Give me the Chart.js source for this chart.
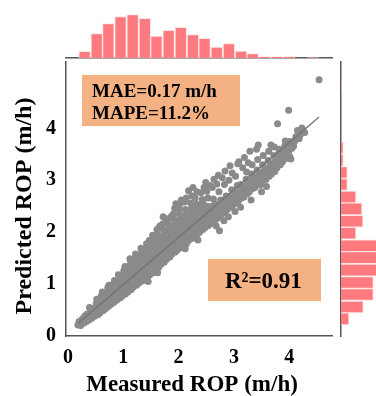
<!DOCTYPE html>
<html>
<head>
<meta charset="utf-8">
<script src="https://cdn.jsdelivr.net/npm/chart.js@4.4.1/dist/chart.umd.min.js"></script>
<style>
  html, body { margin: 0; padding: 0; background: #fff; }
  #wrap { position: relative; width: 376px; height: 396px; }
  #wrap canvas { position: absolute; left: 0; top: 0; }
</style>
</head>
<body>
<div id="wrap">
  <canvas id="topHist" width="376" height="396"></canvas>
  <canvas id="rightHist" width="376" height="396"></canvas>
  <canvas id="main" width="376" height="396"></canvas>
</div>
<script>
// measured vs predicted ROP (m/h)
const scatterPts = [
  [0.18,0.21],[0.21,0.24],[0.23,0.20],[0.20,0.28],[0.25,0.27],[0.26,0.33],
  [0.29,0.25],[0.31,0.31],[0.30,0.38],[0.33,0.28],[0.34,0.42],[0.36,0.35],
  [0.38,0.31],[0.40,0.39],[0.41,0.47],[0.39,0.55],[0.43,0.34],[0.44,0.51],[0.46,0.43],
  [0.48,0.38],[0.50,0.46],[0.49,0.54],[0.51,0.62],[0.52,0.71],[0.54,0.41],[0.55,0.58],[0.56,0.67],
  [0.58,0.45],[0.59,0.52],[0.60,0.60],[0.61,0.68],[0.60,0.77],[0.62,0.85],[0.64,0.49],[0.65,0.64],[0.66,0.74],
  [0.68,0.53],[0.69,0.60],[0.70,0.68],[0.71,0.76],[0.70,0.84],[0.72,0.93],[0.73,0.57],[0.75,0.71],[0.74,0.98],[0.76,0.82],
  [0.78,0.61],[0.79,0.68],[0.80,0.76],[0.81,0.84],[0.80,0.92],[0.82,1.00],[0.83,0.65],[0.85,0.79],[0.84,1.07],[0.86,0.90],
  [0.88,0.69],[0.89,0.77],[0.90,0.85],[0.91,0.93],[0.90,1.01],[0.92,1.09],[0.91,1.18],[0.94,0.73],[0.95,0.88],[0.96,1.03],[0.95,1.14],
  [0.98,0.77],[0.99,0.85],[1.00,0.93],[1.01,1.01],[1.00,1.09],[1.02,1.17],[1.01,1.26],[1.03,1.34],[1.04,0.81],[1.05,0.97],[1.06,1.13],[1.05,1.29],
  [1.08,0.85],[1.09,0.93],[1.10,1.01],[1.11,1.09],[1.10,1.17],[1.12,1.25],[1.11,1.34],[1.13,1.43],[1.14,0.89],[1.15,1.05],[1.16,1.21],[1.15,1.38],[1.12,1.49],
  [1.18,0.94],[1.19,1.02],[1.20,1.10],[1.21,1.18],[1.20,1.26],[1.22,1.34],[1.21,1.43],[1.23,1.52],[1.24,0.98],[1.25,1.14],[1.26,1.30],[1.25,1.47],[1.22,1.58],
  [1.28,1.02],[1.29,1.10],[1.30,1.18],[1.31,1.26],[1.30,1.34],[1.32,1.42],[1.31,1.51],[1.33,1.60],[1.34,1.06],[1.35,1.22],[1.36,1.38],[1.35,1.55],[1.32,1.69],
  [1.38,1.10],[1.39,1.18],[1.40,1.26],[1.41,1.34],[1.40,1.42],[1.42,1.50],[1.41,1.59],[1.43,1.68],[1.44,1.14],[1.45,1.30],[1.46,1.46],[1.45,1.63],[1.42,1.78],[1.47,1.84],[1.45,1.05],
  [1.48,1.18],[1.49,1.26],[1.50,1.34],[1.51,1.42],[1.50,1.50],[1.52,1.58],[1.51,1.67],[1.53,1.76],[1.52,1.85],[1.54,1.22],[1.55,1.38],[1.56,1.54],[1.55,1.71],[1.53,1.94],
  [1.58,1.28],[1.59,1.36],[1.60,1.44],[1.61,1.52],[1.60,1.60],[1.62,1.68],[1.61,1.77],[1.63,1.86],[1.62,1.95],[1.61,2.05],[1.64,1.32],[1.65,1.48],[1.66,1.64],[1.65,1.81],[1.66,2.12],[1.62,1.22],
  [1.68,1.38],[1.69,1.46],[1.70,1.54],[1.71,1.62],[1.70,1.70],[1.72,1.78],[1.71,1.87],[1.73,1.96],[1.72,2.05],[1.71,2.16],[1.74,1.42],[1.75,1.58],[1.76,1.74],[1.75,1.91],[1.77,2.22],[1.72,2.30],
  [1.78,1.48],[1.79,1.56],[1.80,1.64],[1.81,1.72],[1.80,1.80],[1.82,1.88],[1.81,1.97],[1.83,2.06],[1.82,2.15],[1.81,2.26],[1.84,1.52],[1.85,1.68],[1.86,1.84],[1.85,2.01],[1.87,2.31],
  [1.88,1.58],[1.89,1.66],[1.90,1.74],[1.91,1.82],[1.90,1.90],[1.92,1.98],[1.91,2.07],[1.93,2.16],[1.92,2.25],[1.91,2.36],[1.94,1.62],[1.95,1.78],[1.96,1.94],[1.95,2.11],[1.93,2.46],[1.95,2.55],
  [1.98,1.66],[1.99,1.74],[2.00,1.82],[2.01,1.90],[2.00,1.98],[2.02,2.06],[2.01,2.15],[2.03,2.24],[2.02,2.34],[2.01,2.45],[2.04,1.70],[2.05,1.86],[2.06,2.02],[2.05,2.19],[2.03,2.56],[2.05,2.62],
  [2.08,1.74],[2.09,1.82],[2.10,1.90],[2.11,1.98],[2.10,2.06],[2.12,2.14],[2.11,2.23],[2.13,2.33],[2.12,2.44],[2.14,1.78],[2.15,1.94],[2.16,2.10],[2.15,2.28],[2.11,2.58],[2.14,2.66],[2.12,1.68],
  [2.18,1.84],[2.19,1.92],[2.20,2.00],[2.21,2.08],[2.20,2.16],[2.22,2.24],[2.21,2.34],[2.23,2.45],[2.24,1.88],[2.25,2.04],[2.26,2.20],[2.25,2.38],[2.22,2.56],[2.24,2.70],[2.18,2.80],
  [2.28,1.92],[2.29,2.00],[2.30,2.08],[2.31,2.16],[2.30,2.24],[2.32,2.33],[2.31,2.43],[2.33,2.54],[2.34,1.97],[2.35,2.12],[2.36,2.28],[2.35,2.48],[2.30,2.66],[2.33,2.78],[2.26,2.86],[2.35,1.85],
  [2.38,2.00],[2.39,2.08],[2.40,2.16],[2.41,2.24],[2.40,2.32],[2.42,2.41],[2.41,2.51],[2.43,2.63],[2.44,2.05],[2.45,2.20],[2.46,2.36],[2.44,2.56],[2.40,2.76],[2.46,2.86],
  [2.48,2.09],[2.49,2.17],[2.50,2.25],[2.51,2.33],[2.50,2.41],[2.52,2.50],[2.54,2.13],[2.55,2.29],[2.56,2.45],[2.53,2.66],[2.57,2.90],[2.49,2.96],[2.51,2.79],
  [2.58,2.17],[2.59,2.25],[2.60,2.33],[2.61,2.41],[2.60,2.50],[2.64,2.21],[2.65,2.37],[2.63,2.64],[2.66,2.54],[2.61,2.86],[2.64,3.02],
  [2.68,2.25],[2.69,2.33],[2.70,2.41],[2.71,2.50],[2.74,2.29],[2.75,2.46],[2.73,2.78],[2.76,2.62],[2.69,2.93],[2.74,2.03],[2.72,3.10],[2.68,2.12],
  [2.78,2.35],[2.79,2.43],[2.80,2.51],[2.81,2.60],[2.84,2.39],[2.85,2.56],[2.83,2.92],[2.86,2.70],[2.79,3.05],[2.84,3.18],[2.82,2.22],
  [2.88,2.44],[2.89,2.52],[2.90,2.60],[2.91,2.69],[2.94,2.48],[2.95,2.65],[2.93,3.28],[2.96,2.82],[2.91,3.00],[2.97,3.14],[2.90,2.30],
  [2.98,2.52],[2.99,2.60],[3.00,2.68],[3.01,2.77],[3.04,2.56],[3.05,2.73],[3.03,3.08],[3.06,2.90],[3.07,3.32],[3.02,2.40],
  [3.08,2.60],[3.10,2.70],[3.11,2.79],[3.12,2.92],[3.14,2.66],[3.15,2.84],[3.16,3.24],[3.09,3.36],[3.12,2.48],
  [3.18,2.68],[3.20,2.78],[3.21,2.88],[3.22,3.02],[3.24,2.74],[3.25,2.93],[3.23,3.16],[3.26,3.34],[3.19,3.44],
  [3.28,2.78],[3.30,2.88],[3.31,2.98],[3.32,3.12],[3.34,2.84],[3.35,3.03],[3.33,3.30],[3.29,3.56],[3.31,2.62],
  [3.38,2.86],[3.40,2.96],[3.41,3.06],[3.42,3.20],[3.44,2.92],[3.45,3.12],[3.43,3.40],[3.41,3.60],[3.44,3.68],
  [3.48,2.93],[3.50,3.04],[3.51,3.14],[3.52,3.30],[3.54,3.00],[3.55,3.20],[3.53,3.48],[3.47,2.91],[3.50,2.78],
  [3.58,3.02],[3.60,3.12],[3.61,3.22],[3.62,3.38],[3.64,3.08],[3.65,3.28],[3.63,3.56],[3.67,3.68],[3.59,2.88],
  [3.68,3.12],[3.70,3.22],[3.71,3.32],[3.72,3.48],[3.74,3.17],[3.75,3.37],[3.73,3.64],
  [3.78,3.24],[3.80,3.34],[3.81,3.44],[3.82,3.55],[3.84,3.30],[3.82,3.60],[3.79,4.09],
  [3.88,3.36],[3.90,3.46],[3.91,3.56],[3.92,3.66],[3.94,3.42],[3.93,3.76],
  [3.98,3.48],[4.00,3.58],[4.01,3.68],[4.01,3.75],[4.01,3.46],[4.03,3.41],[4.05,3.62],[3.99,4.35],
  [4.08,3.66],[4.10,3.76],[4.12,3.84],[4.15,3.96],[4.18,3.80],[4.20,3.88],[4.23,4.01],[4.28,3.92],[4.54,4.94]
];

// least-squares fit drawn through the cloud
const fitX = [0.19, 4.54];
const fitY = [0.25, 4.22];

// marginal histogram of measured ROP
const xBinCenters = [0.30,0.52,0.73,0.95,1.17,1.39,1.60,1.82,2.04,2.26,2.47,2.69,2.91,3.13,3.34,3.56,3.78,4.00,4.21,4.43];
const xBinCounts  = [20,73,103,124,130,119,66,83,92,70,59,33,43,21,13,4,4,4,0,1];

// marginal histogram of predicted ROP
const yBinCenters = [0.33,0.56,0.80,1.03,1.27,1.51,1.74,1.98,2.21,2.45,2.68,2.92,3.15,3.39,3.63,3.86,4.10,4.33,4.57,4.80];
const yBinCounts  = [24,67,97,97,150,172,160,45,66,63,45,19,19,7,7,0,0,0,0,1];

const xTicks = [0, 1, 2, 3, 4];
const yTicks = [0, 1, 2, 3, 4];

const X_MIN = -0.036, X_MAX = 4.774;
const Y_MIN = 0, Y_MAX = 5.28;

const serif = 'Liberation Serif, Times New Roman, serif';
const barFill = '#ff7a7e';
const barEdge = 'rgba(255,225,225,0.9)';
const spine = '#555555';

// shared chart area: left 66, top 62, right 332, bottom 336
const AREA = { left: 66, top: 62, right: 332, bottom: 336 };

const fixedTicks = vals => scale => { scale.ticks = vals.map(v => ({ value: v })); };

// text boxes and axis titles
const labelsPlugin = {
  id: 'labels',
  afterDraw(chart) {
    const ctx = chart.ctx;
    const ca = chart.chartArea;
    ctx.save();

    ctx.fillStyle = '#f4b183';
    ctx.fillRect(ca.left + 16, ca.top + 13, 158, 51);
    ctx.fillRect(ca.left + 142, ca.top + 197, 113, 42);

    ctx.fillStyle = '#000';
    ctx.textAlign = 'left';
    ctx.textBaseline = 'alphabetic';
    ctx.font = 'bold 19px ' + serif;
    ctx.fillText('MAE=0.17 m/h', ca.left + 26, ca.top + 35);
    ctx.fillText('MAPE=11.2%', ca.left + 26, ca.top + 57);

    ctx.font = 'bold 23px ' + serif;
    ctx.fillText('R\u00b2=0.91', ca.left + 159, ca.top + 226);

    ctx.textAlign = 'center';
    ctx.textBaseline = 'middle';
    ctx.font = 'bold 23px ' + serif;
    ctx.fillText('Measured ROP (m/h)', 192, 385);

    ctx.translate(25, 206);
    ctx.rotate(-Math.PI / 2);
    ctx.font = 'bold 24px ' + serif;
    ctx.fillText('Predicted ROP (m/h)', 0, 0);
    ctx.restore();
  }
};

Chart.defaults.animation = false;
Chart.defaults.responsive = false;
Chart.defaults.plugins.legend.display = false;
Chart.defaults.plugins.tooltip.enabled = false;

// main scatter, fit line on top of the cloud
new Chart(document.getElementById('main'), {
  type: 'scatter',
  data: {
    datasets: [
      {
        data: scatterPts.map(p => ({ x: p[0], y: p[1] })),
        backgroundColor: '#8a8a8a',
        borderWidth: 0,
        pointRadius: 3.5,
        order: 2
      },
      {
        type: 'line',
        data: fitX.map((x, i) => ({ x: x, y: fitY[i] })),
        borderColor: '#737373',
        borderWidth: 1.3,
        pointRadius: 0,
        order: 1
      }
    ]
  },
  options: {
    layout: { padding: { top: AREA.top, right: 376 - AREA.right, left: 0, bottom: 0 } },
    scales: {
      x: {
        type: 'linear', min: X_MIN, max: X_MAX,
        grid: { display: false, drawTicks: false },
        border: { color: spine, width: 1.5 },
        ticks: { color: '#000', padding: 10, font: { family: serif, size: 20, weight: 'bold' } },
        afterBuildTicks: fixedTicks(xTicks),
        afterFit(s) { s.height = 396 - AREA.bottom; }
      },
      y: {
        type: 'linear', min: Y_MIN, max: Y_MAX,
        grid: { display: false, drawTicks: false },
        border: { color: spine, width: 1.5 },
        ticks: { color: '#000', padding: 10, font: { family: serif, size: 20, weight: 'bold' } },
        afterBuildTicks: fixedTicks(yTicks),
        afterFit(s) { s.width = AREA.left; }
      }
    }
  },
  plugins: [labelsPlugin]
});

// top marginal histogram
new Chart(document.getElementById('topHist'), {
  type: 'bar',
  data: {
    datasets: [{
      data: xBinCenters.map((c, i) => ({ x: c, y: xBinCounts[i] })),
      backgroundColor: barFill,
      borderColor: barEdge,
      borderWidth: 1,
      barPercentage: 1,
      categoryPercentage: 1
    }]
  },
  options: {
    layout: { padding: { top: 12, left: AREA.left, right: 376 - AREA.right, bottom: 396 - 58 } },
    scales: {
      x: {
        type: 'linear', min: X_MIN, max: X_MAX, offset: false,
        grid: { display: false, drawTicks: false },
        border: { color: spine, width: 1.5 },
        ticks: { display: false },
        afterFit(s) { s.height = 0; }
      },
      y: { display: false, min: 0, max: 138 }
    }
  }
});

// right marginal histogram
new Chart(document.getElementById('rightHist'), {
  type: 'bar',
  data: {
    datasets: [{
      data: yBinCenters.map((c, i) => ({ x: yBinCounts[i], y: c })),
      backgroundColor: barFill,
      borderColor: barEdge,
      borderWidth: 1,
      barPercentage: 1,
      categoryPercentage: 1
    }]
  },
  options: {
    indexAxis: 'y',
    layout: { padding: { top: AREA.top, left: 341, right: 0, bottom: 396 - AREA.bottom } },
    scales: {
      y: {
        type: 'linear', min: Y_MIN, max: Y_MAX, offset: false,
        grid: { display: false, drawTicks: false },
        border: { color: spine, width: 1.5 },
        ticks: { display: false },
        afterFit(s) { s.width = 0; }
      },
      x: { display: false, min: 0, max: 105 }
    }
  }
});
</script>
</body>
</html>
